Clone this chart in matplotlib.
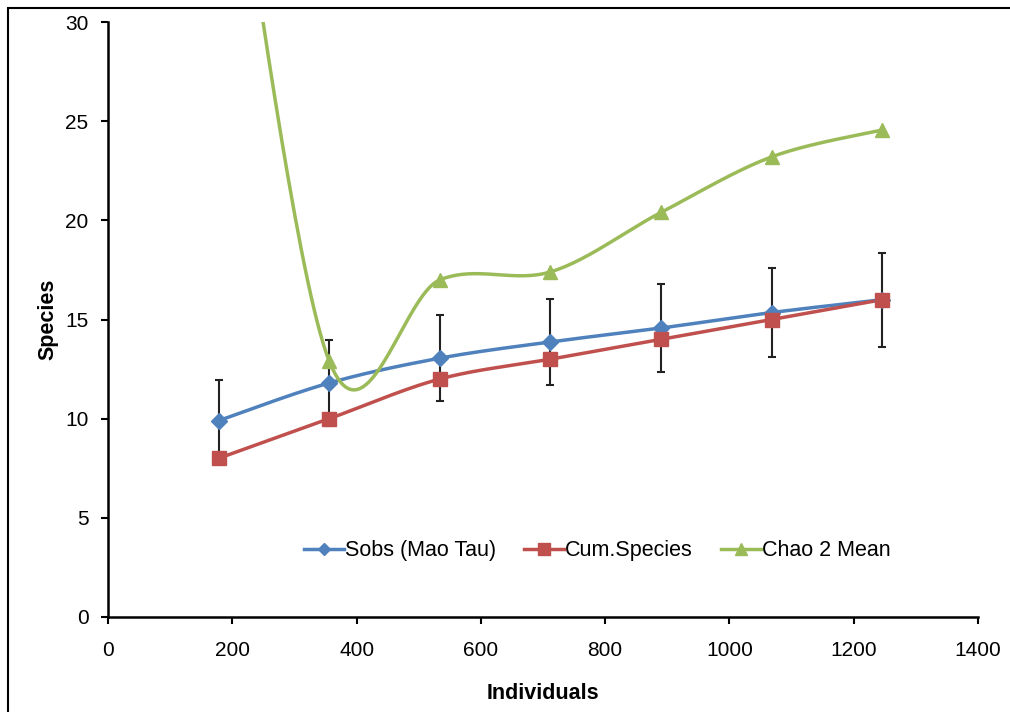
import numpy             as np
import matplotlib
matplotlib.use("Agg")
import matplotlib.pyplot as plt
from matplotlib.patches import Rectangle

# data
individuals = [178, 356, 534, 712, 890, 1068, 1246]
sobs        = [9.9, 11.8, 13.05, 13.87, 14.57, 15.35, 16.0]
sobs_err    = [2.07, 2.15, 2.17, 2.17, 2.2, 2.24, 2.37]
cum_species = [8, 10, 12, 13, 14, 15, 16]
chao2_mean  = [45.0, 12.9, 17.0, 17.4, 20.4, 23.2, 24.56]

BLUE  = '#4F81BD'
RED   = '#C0504D'
GREEN = '#9BBB59'

plt.rcParams['font.family'] = ['Liberation Sans', 'DejaVu Sans']


def smooth(x, y, n = 40):
  # excel-style smoothed line: cubic bezier through points
  x = np.asarray(x, float)
  y = np.asarray(y, float)
  px = np.concatenate([[x[0]], x, [x[-1]]])
  py = np.concatenate([[y[0]], y, [y[-1]]])
  xs, ys = [], []
  t = np.linspace(0, 1, n)
  for i in range(len(x) - 1):
    p0 = np.array([px[i + 1], py[i + 1]])
    p3 = np.array([px[i + 2], py[i + 2]])
    p1 = p0 + (np.array([px[i + 2], py[i + 2]]) - np.array([px[i], py[i]])) / 6
    p2 = p3 - (np.array([px[i + 3], py[i + 3]]) - np.array([px[i + 1], py[i + 1]])) / 6
    b = ((1 - t) ** 3)[:, None] * p0 + (3 * (1 - t) ** 2 * t)[:, None] * p1 \
      + (3 * (1 - t) * t ** 2)[:, None] * p2 + (t ** 3)[:, None] * p3
    xs.append(b[:, 0])
    ys.append(b[:, 1])
  return np.concatenate(xs), np.concatenate(ys)


fig = plt.figure(figsize = (10.1, 7.12), dpi = 100)
ax  = fig.add_axes([108 / 1010, 95 / 712, 870 / 1010, 595 / 712])

# outer chart border (cut off at right/bottom)
fig.patches.append(Rectangle((8 / 1010, -0.05), 1.1, (712 - 8) / 712 + 0.05,
                             transform = fig.transFigure, fill = False,
                             edgecolor = 'black', linewidth = 1.5))

ax.errorbar(individuals, sobs, yerr = sobs_err, fmt = 'none', ecolor = '#222222',
            elinewidth = 1.5, capsize = 3, capthick = 1.5, zorder = 2)

for xs, ys, col, mk, ms, lab in [
    (individuals, sobs,        BLUE,  'D', 8,  'Sobs (Mao Tau)'),
    (individuals, cum_species, RED,   's', 10, 'Cum.Species'),
    (individuals, chao2_mean,  GREEN, '^', 10, 'Chao 2 Mean')]:
  sx, sy = smooth(xs, ys)
  ax.plot(sx, sy, color = col, linewidth = 2.5, zorder = 3)
  ax.plot(xs, ys, linestyle = 'none', marker = mk, markersize = ms,
          color = col, zorder = 4)
  ax.plot([], [], color = col, linewidth = 2.5, marker = mk, markersize = ms - 2, label = lab)

ax.set_xlim(0, 1400)
ax.set_ylim(0, 30)
ax.set_xticks(range(0, 1401, 200))
ax.set_yticks(range(0, 31, 5))

for side in ['top', 'right']:
  ax.spines[side].set_visible(False)
for side in ['left', 'bottom']:
  ax.spines[side].set_linewidth(1.8)

ax.tick_params(direction = 'out', length = 5, width = 1.5, labelsize = 15)
ax.tick_params(axis = 'x', pad = 12)
ax.tick_params(axis = 'y', pad = 9)

ax.set_xlabel('Individuals', fontsize = 15.5, fontweight = 'bold', labelpad = 17)
ax.set_ylabel('Species',     fontsize = 15.5, fontweight = 'bold', labelpad = 5)

ax.legend(loc = 'center', bbox_to_anchor = (0.5625, 0.111), ncol = 3, frameon = False,
          fontsize = 15.5, handlelength = 1.85, handletextpad = 0.05, columnspacing = 1.3)

fig.savefig('out.png', dpi = 100)
